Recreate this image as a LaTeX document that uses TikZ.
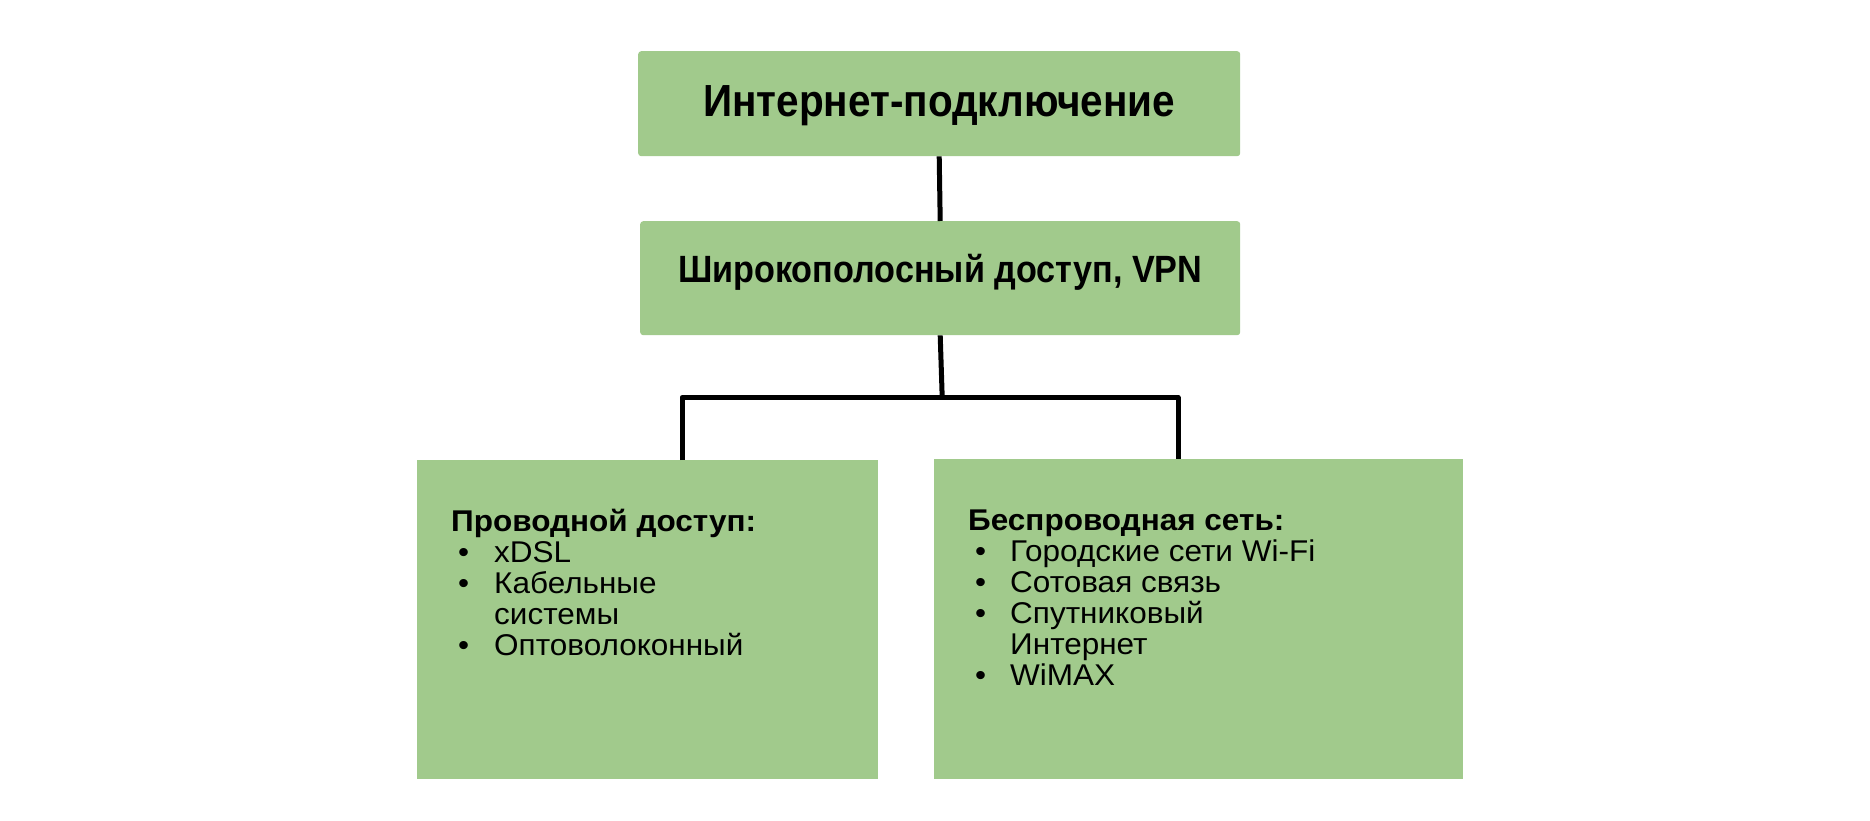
\documentclass[tikz,border=0pt]{standalone}
\usepackage{fontspec}
\setmainfont{Liberation Sans}
\newfontfamily\condfont[FakeStretch=0.9]{Liberation Sans}
\newfontfamily\widefont[FakeStretch=1.05]{Liberation Sans}
\usetikzlibrary{calc}
\definecolor{boxgreen}{HTML}{A1CA8C}
\newcommand{\bulA}{\makebox[43pt][l]{\hspace{7pt}\textbullet}}
\newcommand{\bulB}{\makebox[42pt][l]{\hspace{7pt}\textbullet}}
\begin{document}
\begin{tikzpicture}[x=1pt,y=1pt,
  gbox/.style={fill=boxgreen, draw=none, inner sep=0pt, anchor=north west},
  conn/.style={draw=black, line width=5pt, line join=round},
  title/.style={font=\condfont\fontsize{45}{50}\selectfont\bfseries},
  subtitle/.style={font=\condfont\fontsize{38}{44}\selectfont\bfseries},
  listtext/.style={font=\widefont\fontsize{30}{31}\selectfont, align=left, anchor=north west, inner sep=0pt}]
\useasboundingbox (0,0) rectangle (1870,-821);
\node[gbox, rounded corners=3pt, minimum width=602pt, minimum height=105pt] (top) at (638,-51) {};
\node[title] (toptext) at ($(top.center)+(0,-2)$) {Интернет-подключение};
\node[gbox, rounded corners=3pt, minimum width=600pt, minimum height=114pt] (mid) at (640,-221) {};
\node[subtitle] (midtext) at ($(mid.center)+(0,6)$) {Широкополосный доступ, VPN};
\node[gbox, minimum width=461pt, minimum height=319pt] (lft) at (417,-460) {};
\node[gbox, minimum width=529pt, minimum height=320pt] (rgt) at (934,-459) {};
\node[listtext] (ltext) at (451,-509) {\textbf{Проводной доступ:}\\
\bulA xDSL\\
\bulA Кабельные\\
\hspace*{43pt}системы\\
\bulA Оптоволоконный};
\node[listtext] (rtext) at (968,-510) {\textbf{Беспроводная сеть:}\\
\bulB Городские сети Wi-Fi\\
\bulB Сотовая связь\\
\bulB Спутниковый\\
\hspace*{42pt}Интернет\\
\bulB WiMAX};
\coordinate (bar) at ($(mid.south)+(2,-62)$);
\coordinate (lj) at ($(lft.north west)+(265,0)$);
\coordinate (rj) at ($(rgt.north west)+(244,0)$);
\draw[conn] (top.south) -- (mid.north);
\draw[conn] (mid.south) -- (bar);
\draw[conn] (lj) |- (bar) -| (rj);
\end{tikzpicture}
\end{document}
